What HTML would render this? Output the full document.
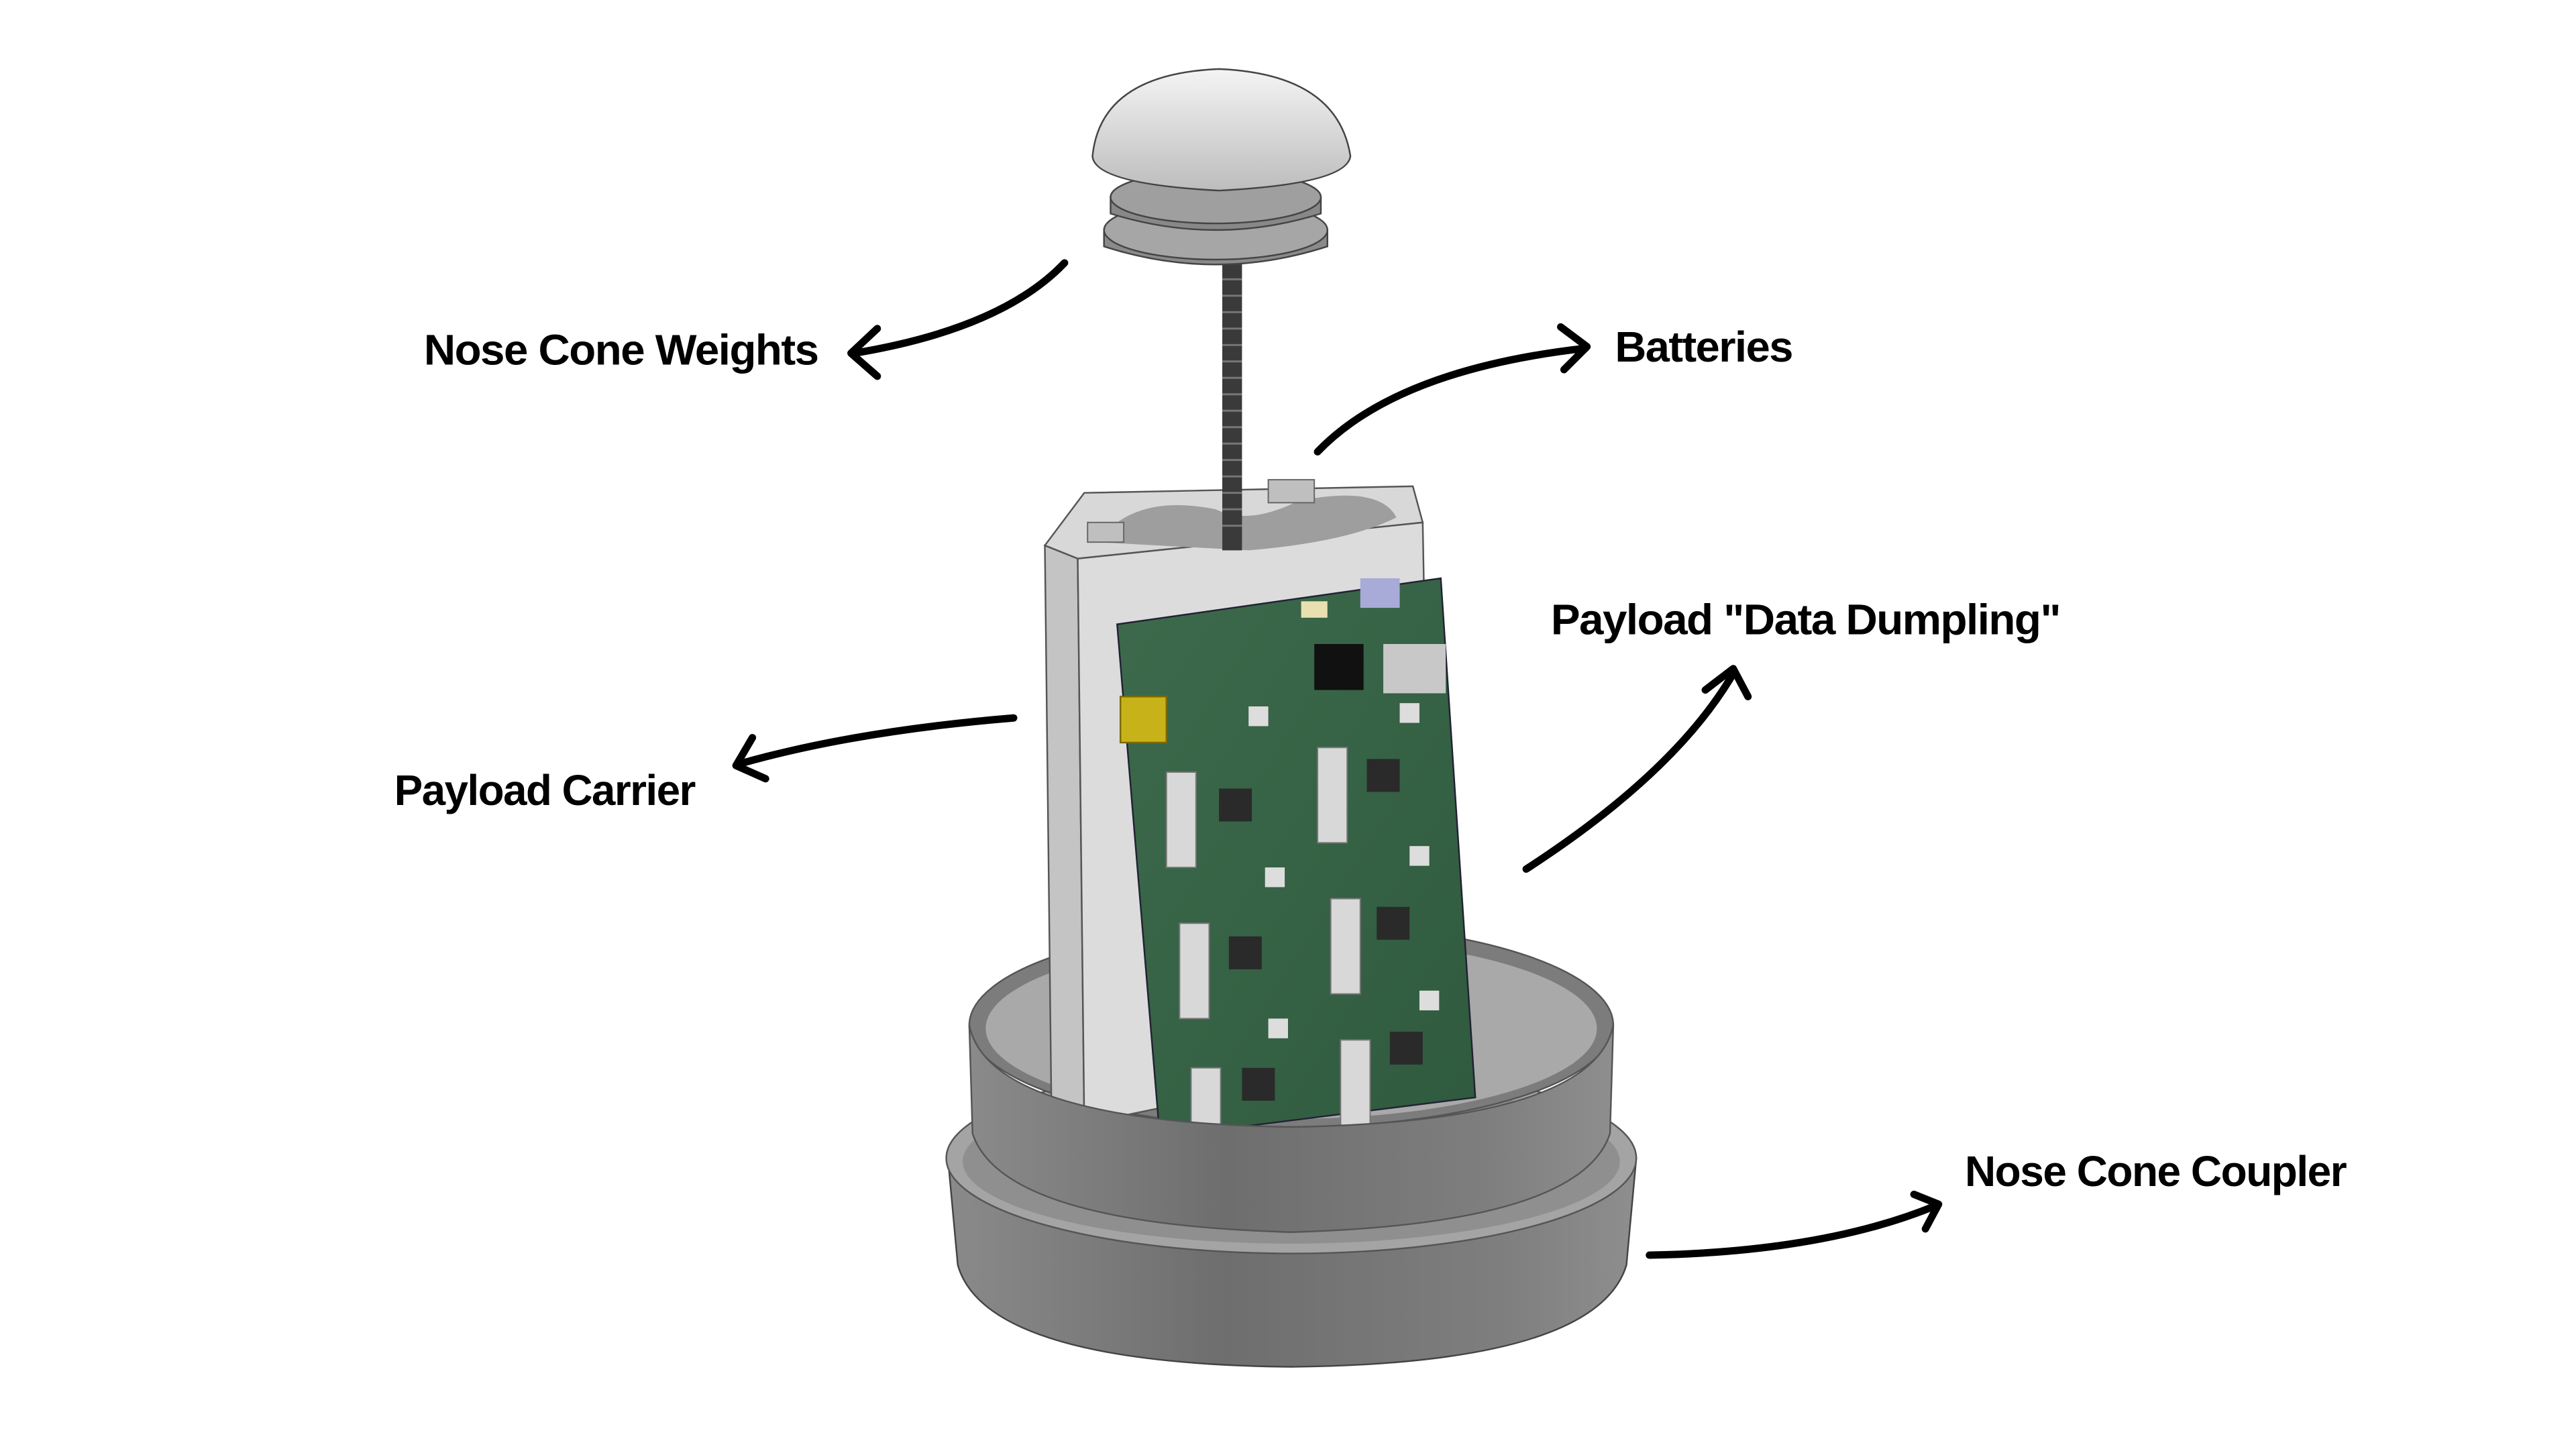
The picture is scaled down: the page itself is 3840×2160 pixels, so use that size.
<!DOCTYPE html>
<html><head><style>html,body{margin:0;padding:0;background:#fff;width:3840px;height:2160px;overflow:hidden}svg{display:block}</style></head>
<body>
<svg width="3840" height="2160" viewBox="0 0 1568 882" xmlns="http://www.w3.org/2000/svg">
<defs>
<linearGradient id="band" x1="0" x2="1" y1="0" y2="0">
<stop offset="0" stop-color="#8a8a8a"/><stop offset="0.4" stop-color="#6e6e6e"/><stop offset="0.8" stop-color="#7e7e7e"/><stop offset="1" stop-color="#8e8e8e"/></linearGradient>
<linearGradient id="dome" x1="0" x2="0" y1="0" y2="1"><stop offset="0" stop-color="#f4f4f4"/><stop offset="1" stop-color="#bdbdbd"/></linearGradient>
<linearGradient id="pcb" x1="0" x2="1" y1="0" y2="1"><stop offset="0" stop-color="#3d6a4c"/><stop offset="1" stop-color="#2f5a3e"/></linearGradient>
</defs>
<rect width="1568" height="882" fill="#fff"/>
<!-- outer coupler -->
<path d="M577,705 L583,770 Q600,830 786,832 Q972,830 990,770 L996,705 Z" fill="url(#band)" stroke="#444" stroke-width="1"/>
<ellipse cx="786" cy="705" rx="210" ry="58" fill="#a4a4a4" stroke="#555" stroke-width="1"/>
<ellipse cx="786" cy="707" rx="200" ry="50" fill="#8f8f8f"/>
<!-- inner ring back -->
<ellipse cx="786" cy="624" rx="196" ry="62" fill="#7c7c7c" stroke="#555" stroke-width="1"/>
<ellipse cx="786" cy="626" rx="186" ry="55" fill="#a9a9a9"/>
<!-- carrier -->
<polygon points="636,332 656,340 660,684 640,676" fill="#c4c4c4" stroke="#555" stroke-width="1"/>
<polygon points="656,340 866,318 872,640 660,684" fill="#dcdcdc" stroke="#555" stroke-width="1"/>
<polygon points="636,332 660,300 860,296 866,318 656,340" fill="#d8d8d8" stroke="#555" stroke-width="1"/>
<path d="M668,330 Q690,300 740,310 Q760,320 790,305 Q840,295 850,315 Q820,330 760,335 Z" fill="#9e9e9e"/>
<rect x="772" y="292" width="28" height="14" fill="#bfbfbf" stroke="#666" stroke-width="0.8"/>
<rect x="662" y="318" width="22" height="12" fill="#bfbfbf" stroke="#666" stroke-width="0.8"/>
<!-- pcb -->
<polygon points="680,380 877,352 898,668 706,692" fill="url(#pcb)" stroke="#223" stroke-width="1"/>
<rect x="800" y="392" width="30" height="28" fill="#111"/>
<rect x="842" y="392" width="38" height="30" fill="#c8c8c8"/>
<rect x="828" y="352" width="24" height="18" fill="#a8aad8"/>
<rect x="792" y="366" width="16" height="10" fill="#e8e0b0"/>
<rect x="682" y="424" width="28" height="28" fill="#c8b21a" stroke="#7a6a00"/>
<g fill="#d8d8d8" stroke="#777" stroke-width="0.8">
<rect x="710" y="470" width="18" height="58"/><rect x="802" y="455" width="18" height="58"/>
<rect x="718" y="562" width="18" height="58"/><rect x="810" y="547" width="18" height="58"/>
<rect x="725" y="650" width="18" height="40"/><rect x="816" y="633" width="18" height="52"/>
</g>
<g fill="#2a2a2a">
<rect x="742" y="480" width="20" height="20"/><rect x="832" y="462" width="20" height="20"/>
<rect x="748" y="570" width="20" height="20"/><rect x="838" y="552" width="20" height="20"/>
<rect x="756" y="650" width="20" height="20"/><rect x="846" y="628" width="20" height="20"/>
</g>
<g fill="#ddd"><rect x="760" y="430" width="12" height="12"/><rect x="852" y="428" width="12" height="12"/><rect x="770" y="528" width="12" height="12"/><rect x="858" y="515" width="12" height="12"/><rect x="772" y="620" width="12" height="12"/><rect x="864" y="603" width="12" height="12"/></g>
<!-- inner ring front band -->
<path d="M590,624 L592,690 Q610,745 786,750 Q962,745 980,690 L982,624 Q970,683 786,686 Q602,683 590,624 Z" fill="url(#band)" stroke="#555" stroke-width="1"/>
<!-- rod -->
<rect x="744" y="150" width="12" height="185" fill="#3a3a3a"/>
<g stroke="#777" stroke-width="1.2"><path d="M744,160 H756 M744,170 H756 M744,180 H756 M744,190 H756 M744,200 H756 M744,210 H756 M744,220 H756 M744,230 H756 M744,240 H756 M744,250 H756 M744,260 H756 M744,270 H756 M744,280 H756 M744,290 H756 M744,300 H756 M744,310 H756 M744,320 H756"/></g>
<!-- weights -->
<path d="M672,140 L672,150 Q740,172 808,150 L808,140 Z" fill="#8a8a8a" stroke="#444"/>
<ellipse cx="740" cy="140" rx="68" ry="18" fill="#a6a6a6" stroke="#444"/>
<path d="M676,120 L676,130 Q740,150 804,130 L804,120 Z" fill="#888" stroke="#444"/>
<ellipse cx="740" cy="120" rx="64" ry="16" fill="#9f9f9f" stroke="#444"/>
<!-- dome -->
<path d="M665,95 Q670,45 742,42 Q814,45 822,95 Q820,112 742,116 Q666,112 665,95 Z" fill="url(#dome)" stroke="#444"/>
<!-- arrows -->
<g fill="none" stroke="#000" stroke-width="4.5" stroke-linecap="round" stroke-linejoin="round">
<path d="M648,160 Q610,200 520,215"/><path d="M534,200 L518,215 L534,229"/>
<path d="M802,275 Q850,225 965,212"/><path d="M950,199 L966,211 L952,225"/>
<path d="M617,437 Q520,445 450,465"/><path d="M458,449 L448,466 L466,474"/>
<path d="M929,529 Q1020,470 1055,410"/><path d="M1038,420 L1055,407 L1064,424"/>
<path d="M1004,764 Q1110,762 1178,734"/><path d="M1165,727 L1180,733 L1172,748"/>
</g>
<g font-family="Liberation Sans, sans-serif" font-weight="bold" font-size="26" fill="#000" letter-spacing="-0.6">
<text x="258" y="222" textLength="240" lengthAdjust="spacingAndGlyphs">Nose Cone Weights</text>
<text x="983" y="220" textLength="108" lengthAdjust="spacingAndGlyphs">Batteries</text>
<text x="944" y="386" textLength="310" lengthAdjust="spacingAndGlyphs">Payload "Data Dumpling"</text>
<text x="240" y="490" textLength="183" lengthAdjust="spacingAndGlyphs">Payload Carrier</text>
<text x="1196" y="722" textLength="232" lengthAdjust="spacingAndGlyphs">Nose Cone Coupler</text>
</g>
</svg>
</body></html>
